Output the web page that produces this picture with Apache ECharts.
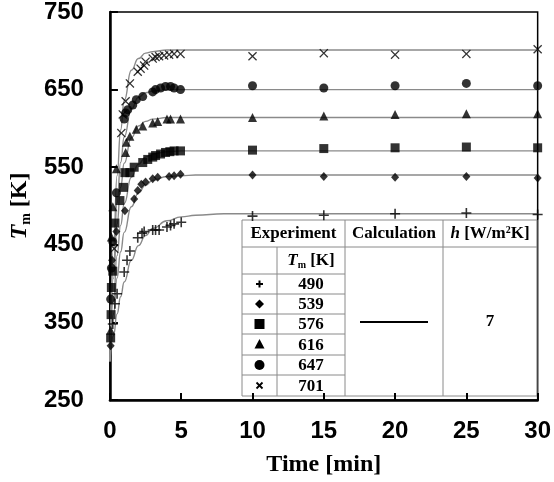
<!DOCTYPE html>
<html>
<head>
<meta charset="utf-8">
<script src="https://cdn.jsdelivr.net/npm/echarts@6/dist/echarts.min.js"></script>
<style>
  html, body { margin: 0; padding: 0; background: #fff; }
  #main { width: 554px; height: 482px; }
</style>
</head>
<body>
<div id="main"></div>
<script>
// calculated curves (h = 7 W/m2K)
var calcTime = [0, 0.25, 0.5, 0.75, 1, 1.5, 2, 2.5, 3, 4, 5, 6, 8, 30];
var calc701 = [300, 446, 539, 598, 636, 675, 690, 697, 699, 701, 701, 701, 701, 701];
var calc650 = [300, 424, 504, 556, 589, 625, 640, 646, 648, 650, 650, 650, 650, 650];
var calc614 = [300, 407, 477, 524, 555, 588, 603, 609, 612, 614, 614, 614, 614, 614];
var calc571 = [300, 379, 436, 475, 503, 537, 554, 563, 567, 570, 571, 571, 571, 571];
var calc540 = [300, 361, 407, 441, 466, 499, 517, 527, 533, 538, 539, 540, 540, 540];
var calc490 = [300, 333, 361, 383, 402, 430, 449, 462, 471, 481, 486, 488, 490, 490];

// experiment [time, Tm]
var exp490 = [[0.2,348],[0.35,374],[0.5,387],[1.0,415],[1.2,430],[1.4,442],[1.95,459],[2.25,465],[2.4,467],[3.0,469],[3.2,469],[3.45,469],[4.0,473],[4.25,475],[4.5,477],[5.0,479],[10,487],[15,488],[20,490],[25,491],[30,489]];
var exp539 = [[0.05,320],[0.15,430],[0.45,467],[1.05,494],[1.7,509],[1.95,520],[2.2,528],[2.5,531],[3.0,535],[3.35,537],[4.15,538],[4.5,539],[4.95,541],[10,540],[15,538],[20,537],[25,538],[30,536]];
var exp576 = [[0.05,330],[0.08,360],[0.1,395],[0.2,416],[0.35,478],[0.7,507],[0.95,524],[1.05,543],[1.4,543],[1.7,550],[2.3,556],[2.65,560],[3.0,563],[3.2,565],[3.55,567],[3.9,569],[4.2,570],[4.5,571],[4.95,571],[10,572],[15,574],[20,575],[25,576],[30,575]];
var exp616 = [[0.05,340],[0.1,460],[0.2,499],[0.45,548],[1.1,569],[1.15,582],[1.4,590],[1.85,599],[2.3,603],[3.0,607],[3.35,609],[4.0,612],[4.25,612],[4.95,612],[10,614],[15,616],[20,618],[25,619],[30,619]];
var exp647 = [[0.05,380],[0.1,420],[0.2,454],[0.45,517],[1.0,612],[1.1,620],[1.25,624],[1.6,630],[1.85,637],[2.3,641],[3.0,647],[3.2,650],[3.55,652],[3.9,654],[4.25,654],[4.5,652],[4.95,650],[10,655],[15,652],[20,655],[25,658],[30,655]];
var exp701 = [[0.3,445],[0.8,594],[0.9,618],[1.1,635],[1.4,658],[1.95,673],[2.15,677],[2.4,681],[2.5,686],[3.0,690],[3.2,692],[3.45,693],[3.8,694],[4.15,695],[4.5,696],[4.95,696],[10,693],[15,697],[20,695],[25,696],[30,702]];

var legendTemps = ['490', '539', '576', '616', '647', '701'];
var hValue = '7';

var plusPath = 'path://M4.2,0h1.6v4.2h4.2v1.6h-4.2v4.2h-1.6v-4.2h-4.2v-1.6h4.2z';
var crossPath = 'path://M0,1L1,0L5,4L9,0L10,1L6,5L10,9L9,10L5,6L1,10L0,9L4,5Z';

var myChart = echarts.init(document.getElementById('main'));

function zip(t, v) {
    var res = [];
    for (var i = 0; i < t.length; i++) res.push([t[i], v[i]]);
    return res;
}

function calcSeries(vals) {
    return {
        type: 'line',
        data: zip(calcTime, vals),
        showSymbol: false,
        smooth: true,
        smoothMonotone: 'x',
        lineStyle: { color: '#8a8a8a', width: 1.4 },
        z: 1,
        silent: true
    };
}

function expSeries(data, symbol, size) {
    return {
        type: 'scatter',
        data: data,
        symbol: symbol,
        symbolSize: size,
        itemStyle: { color: '#000' },
        z: 3,
        silent: true
    };
}

// legend table drawn as graphic
var L = 242, T = 220, R = 537, B = 396;
var c1 = 277, c2 = 345, c3 = 443, h1 = 247;
var rowLines = [274, 294, 314, 334, 355, 375];
var rowCenters = [284, 304, 324, 344.5, 365, 385.5];
var lineStyle = { stroke: '#8a8a8a', lineWidth: 1 };
var els = [];
els.push({ type: 'rect', shape: { x: L, y: T, width: R - L, height: B - T }, style: { fill: 'none', stroke: '#8a8a8a', lineWidth: 1 } });
els.push({ type: 'line', shape: { x1: L, y1: h1, x2: R, y2: h1 }, style: lineStyle });
els.push({ type: 'line', shape: { x1: c2, y1: T, x2: c2, y2: B }, style: lineStyle });
els.push({ type: 'line', shape: { x1: c3, y1: T, x2: c3, y2: B }, style: lineStyle });
els.push({ type: 'line', shape: { x1: c1, y1: h1, x2: c1, y2: B }, style: lineStyle });
rowLines.forEach(function (y) {
    els.push({ type: 'line', shape: { x1: L, y1: y, x2: c2, y2: y }, style: lineStyle });
});
var serif = 'bold 17px "Liberation Serif", "Times New Roman", serif';
function txt(x, y, text, rich) {
    var e = { type: 'text', x: x, y: y, style: { text: text, font: serif, fill: '#000', align: 'center', verticalAlign: 'middle' } };
    if (rich) e.style.rich = rich;
    return e;
}
var richT = {
    i: { font: 'italic bold 17px "Liberation Serif", serif', fill: '#000' },
    s: { font: 'bold 10px "Liberation Serif", serif', fill: '#000', padding: [8, 0, 0, 0] },
    sup: { font: 'bold 10px "Liberation Serif", serif', fill: '#000', padding: [0, 0, 7, 0] }
};
els.push(txt((L + c2) / 2, 234, 'Experiment'));
els.push(txt((c2 + c3) / 2, 234, 'Calculation'));
els.push(txt((c3 + R) / 2, 234, '{i|h} [W/m{sup|2}K]', richT));
els.push(txt((c1 + c2) / 2, 261, '{i|T}{s|m} [K]', richT));
legendTemps.forEach(function (t, i) {
    els.push(txt((c1 + c2) / 2, rowCenters[i] + 1, t));
});
els.push(txt((c3 + R) / 2, 322, hValue));
els.push({ type: 'line', shape: { x1: 360, y1: 322, x2: 428, y2: 322 }, style: { stroke: '#000', lineWidth: 2 } });
// legend markers
var mx = (L + c1) / 2;
var cy = rowCenters;
els.push({ type: 'line', shape: { x1: mx - 3.5, y1: cy[0], x2: mx + 3.5, y2: cy[0] }, style: { stroke: '#000', lineWidth: 2 } });
els.push({ type: 'line', shape: { x1: mx, y1: cy[0] - 3.5, x2: mx, y2: cy[0] + 3.5 }, style: { stroke: '#000', lineWidth: 2 } });
els.push({ type: 'polygon', shape: { points: [[mx, cy[1] - 4.5], [mx + 4.5, cy[1]], [mx, cy[1] + 4.5], [mx - 4.5, cy[1]]] }, style: { fill: '#000' } });
els.push({ type: 'rect', shape: { x: mx - 5, y: cy[2] - 5, width: 10, height: 10 }, style: { fill: '#000' } });
els.push({ type: 'polygon', shape: { points: [[mx, cy[3] - 5.5], [mx + 5, cy[3] + 4], [mx - 5, cy[3] + 4]] }, style: { fill: '#000' } });
els.push({ type: 'circle', shape: { cx: mx, cy: cy[4], r: 5 }, style: { fill: '#000' } });
els.push({ type: 'line', shape: { x1: mx - 3, y1: cy[5] - 3, x2: mx + 3, y2: cy[5] + 3 }, style: { stroke: '#000', lineWidth: 1.8 } });
els.push({ type: 'line', shape: { x1: mx - 3, y1: cy[5] + 3, x2: mx + 3, y2: cy[5] - 3 }, style: { stroke: '#000', lineWidth: 1.8 } });

var labelFont = { fontFamily: '"Liberation Sans", Arial, sans-serif', fontWeight: 'bold', fontSize: 24, color: '#000' };

var option = {
    backgroundColor: '#fff',
    animation: false,
    grid: { left: 107, right: 16, top: 8, bottom: 82, show: true, borderColor: '#000', borderWidth: 1.5 },
    xAxis: {
        type: 'value', min: 0, max: 30, interval: 5,
        name: 'Time [min]', nameLocation: 'middle', nameGap: 53,
        nameTextStyle: { fontFamily: '"Liberation Serif", "Times New Roman", serif', fontWeight: 'bold', fontSize: 24, color: '#000' },
        axisLine: { lineStyle: { color: '#000', width: 2.5 } },
        axisTick: { inside: true, length: 7, lineStyle: { color: '#000', width: 2 } },
        axisLabel: Object.assign({ margin: 19 }, labelFont),
        splitLine: { show: false }
    },
    yAxis: {
        type: 'value', min: 250, max: 750, interval: 100,
        name: '{i|T}{s|m} [K]', nameLocation: 'middle', nameGap: 76, nameRotate: 90,
        nameTextStyle: {
            fontFamily: '"Liberation Serif", serif', fontWeight: 'bold', fontSize: 24, color: '#000',
            rich: {
                i: { fontFamily: '"Liberation Serif", serif', fontStyle: 'italic', fontWeight: 'bold', fontSize: 24, color: '#000' },
                s: { fontFamily: '"Liberation Serif", serif', fontWeight: 'bold', fontSize: 14, color: '#000', padding: [12, 0, 0, 0] }
            }
        },
        axisLine: { lineStyle: { color: '#000', width: 2.5 } },
        axisTick: { inside: true, length: 8, lineStyle: { color: '#000', width: 2 } },
        axisLabel: Object.assign({ margin: 26 }, labelFont),
        splitLine: { show: false }
    },
    graphic: { elements: els },
    series: [
        calcSeries(calc701), calcSeries(calc650), calcSeries(calc614),
        calcSeries(calc571), calcSeries(calc540), calcSeries(calc490),
        expSeries(exp490, plusPath, 10),
        expSeries(exp539, 'diamond', [8, 9]),
        expSeries(exp576, 'rect', 9),
        expSeries(exp616, 'triangle', 9),
        expSeries(exp647, 'circle', 9),
        expSeries(exp701, crossPath, 9)
    ]
};
myChart.setOption(option);
window.addEventListener('resize', function () {
    myChart.resize();
});
</script>
</body>
</html>
